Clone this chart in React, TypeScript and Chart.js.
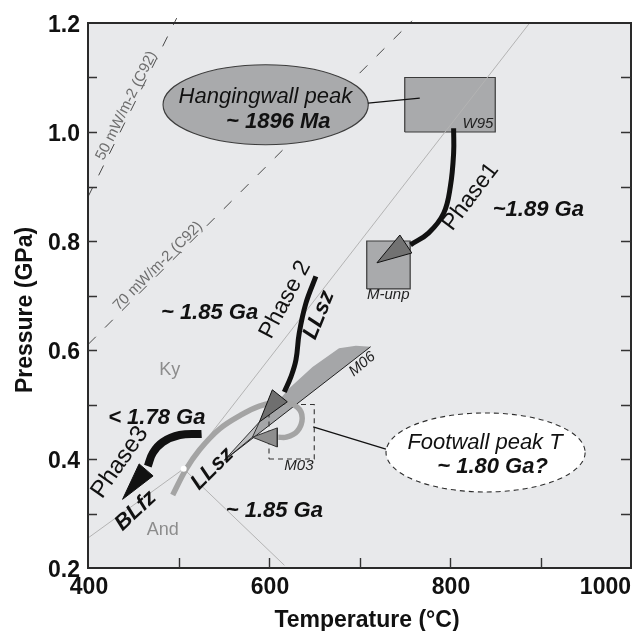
import React, { useEffect, useRef } from 'react';
import { Chart, registerables } from 'chart.js';

Chart.register(...registerables);

// ---------- axes ----------
const xTickLabels = [400, 600, 800, 1000];
const yTickLabels = [0.2, 0.4, 0.6, 0.8, 1.0, 1.2];
const xTickMarks = [500, 600, 700, 800, 900];
const yTickMarks = [0.3, 0.4, 0.5, 0.6, 0.7, 0.8, 0.9, 1.0, 1.1];

// ---------- geotherms (C92) ----------
const geo50T = [400, 498];
const geo50P = [0.881, 1.209];
const geo70T = [400, 758];
const geo70P = [0.61, 1.204];

// ---------- Al2SiO5 reactions ----------
const kyAndT = [400, 505.7];
const kyAndP = [0.255, 0.382];
const kySilT = [505.7, 888];
const kySilP = [0.382, 1.2];
const andSilT = [505.7, 617];
const andSilP = [0.382, 0.205];
const triplePointT = [505.7];
const triplePointP = [0.382];

// ---------- P-T boxes ----------
const w95T = [750, 850];
const w95P = [1.0, 1.1];
const mUnpT = [708, 756];
const mUnpP = [0.712, 0.8];
const m03T = [600, 650];
const m03P = [0.4, 0.5];

// ---------- M06 field ----------
const m06T = [550.8, 589.4, 622.4, 648.1, 677.4, 696, 712.3, 550.8];
const m06P = [0.398, 0.466, 0.53, 0.569, 0.603, 0.608, 0.606, 0.398];
const m06EdgeT = [712.3, 550.8];
const m06EdgeP = [0.606, 0.398];
const llszWedgeT = [550.8, 589.4, 581.7, 550.8];
const llszWedgeP = [0.398, 0.468, 0.44, 0.398];

// ---------- paths ----------
const phase1T = [804, 804, 800.4, 793, 776.5, 756.4];
const phase1P = [1.007, 0.961, 0.9, 0.851, 0.815, 0.793];
const phase1HeadT = [744.6, 757.8, 719.3, 744.6];
const phase1HeadP = [0.811, 0.778, 0.76, 0.811];

const phase2T = [651.8, 640.8, 633.4, 629.8, 624.3, 616.9];
const phase2P = [0.735, 0.686, 0.631, 0.582, 0.551, 0.523];
const phase2HeadT = [603.7, 620.2, 589.4, 603.7];
const phase2HeadP = [0.527, 0.505, 0.468, 0.527];

const phase3T = [525.5, 501.3, 482.6, 471.6, 466.1];
const phase3P = [0.446, 0.444, 0.431, 0.411, 0.387];
const phase3HeadT = [456.5, 471.9, 438.2, 456.5];
const phase3HeadP = [0.391, 0.369, 0.326, 0.391];

const footwallT = [493.6, 507.9, 523.3, 545.3, 567.3, 589.4, 614.7, 631.2, 636.7, 631.2, 619.1, 610.3];
const footwallP = [0.334, 0.38, 0.417, 0.455, 0.479, 0.497, 0.505, 0.495, 0.475, 0.451, 0.44, 0.44];
const footwallHeadT = [609.2, 609.2, 581.7, 609.2];
const footwallHeadP = [0.457, 0.422, 0.44, 0.457];

// ---------- label connectors ----------
const hwLinkT = [709.4, 766.6];
const hwLinkP = [1.053, 1.062];
const fwLinkT = [648.8, 729.2];
const fwLinkP = [0.459, 0.418];

// ---------- ellipse callouts (centre T, P, half-width T, half-height P) ----------
const hwEllipse = [596.3, 1.05, 113.4, 0.0734];
const fwEllipse = [839.3, 0.412, 110, 0.0725];

const FONT = '"Liberation Sans", Arial, Helvetica, sans-serif';
const BG = '#e8e9eb';
const BOX = '#a9aaac';

const xy = (T: number[], P: number[]) => T.map((t, i) => ({ x: t, y: P[i] }));
const rect = (T: number[], P: number[]) => [
  { x: T[0], y: P[0] }, { x: T[1], y: P[0] }, { x: T[1], y: P[1] }, { x: T[0], y: P[1] }, { x: T[0], y: P[0] },
];

type Txt = { s: string; T: number; P: number; font: string; color?: string; rot?: number; align?: string; baseline?: string };

const BI = `italic bold 22px ${FONT}`;
const REG = `23px ${FONT}`;
const IT = `italic 22px ${FONT}`;
const SMALL = `italic 15px ${FONT}`;

const texts: Txt[] = [
  { s: 'Hangingwall peak', T: 596, P: 1.065, font: IT },
  { s: '~ 1896 Ma', T: 610.3, P: 1.018, font: BI },
  { s: 'Footwall peak T', T: 838.7, P: 0.429, font: IT },
  { s: '~ 1.80 Ga?', T: 847, P: 0.385, font: BI },
  { s: '~1.89 Ga', T: 897.6, P: 0.857, font: BI },
  { s: 'Phase1', T: 822.8, P: 0.881, font: REG, rot: -53 },
  { s: '~ 1.85 Ga', T: 534.3, P: 0.668, font: BI },
  { s: 'Phase 2', T: 618, P: 0.692, font: REG, rot: -62 },
  { s: 'LLsz', T: 655.4, P: 0.664, font: BI, rot: -68 },
  { s: '< 1.78 Ga', T: 476, P: 0.475, font: BI },
  { s: 'Phase3', T: 435.2, P: 0.394, font: `24px ${FONT}`, rot: -55 },
  { s: 'BLfz', T: 452.8, P: 0.305, font: BI, rot: -43 },
  { s: 'LLsz', T: 537.6, P: 0.382, font: BI, rot: -45 },
  { s: '~ 1.85 Ga', T: 605.9, P: 0.305, font: BI },
  { s: 'Ky', T: 490.3, P: 0.563, font: `18px ${FONT}`, color: '#8c8c8c' },
  { s: 'And', T: 482.6, P: 0.27, font: `18px ${FONT}`, color: '#8c8c8c' },
  { s: 'W95', T: 848, P: 1.007, font: SMALL, align: 'right', baseline: 'alphabetic', color: '#222' },
  { s: 'M-unp', T: 708.3, P: 0.694, font: SMALL, align: 'left', baseline: 'alphabetic', color: '#222' },
  { s: 'M03', T: 616.9, P: 0.38, font: SMALL, align: 'left', baseline: 'alphabetic', color: '#222' },
  { s: 'M06', T: 703, P: 0.574, font: SMALL, rot: -40, color: '#222' },
];

function drawText(ctx: any, s: string, x: number, y: number, font: string, color: string, rot = 0, align = 'center', baseline = 'middle') {
  ctx.save();
  ctx.translate(x, y);
  if (rot) ctx.rotate((rot * Math.PI) / 180);
  ctx.font = font;
  ctx.fillStyle = color;
  ctx.textAlign = align;
  ctx.textBaseline = baseline;
  ctx.fillText(s, 0, 0);
  ctx.restore();
}

function drawEllipse(chart: any, e: number[], fill: string, stroke: string, dash: number[]) {
  const { ctx, scales } = chart;
  const cx = scales.x.getPixelForValue(e[0]);
  const cy = scales.y.getPixelForValue(e[1]);
  const rx = Math.abs(scales.x.getPixelForValue(e[0] + e[2]) - cx);
  const ry = Math.abs(scales.y.getPixelForValue(e[1] + e[3]) - cy);
  ctx.save();
  ctx.beginPath();
  ctx.ellipse(cx, cy, rx, ry, 0, 0, Math.PI * 2);
  ctx.fillStyle = fill;
  ctx.fill();
  ctx.setLineDash(dash);
  ctx.lineWidth = 1.1;
  ctx.strokeStyle = stroke;
  ctx.stroke();
  ctx.restore();
}

function geoLabel(chart: any, T: number[], P: number[], atT: number, s: string) {
  const { ctx, scales } = chart;
  const x0 = scales.x.getPixelForValue(T[0]);
  const y0 = scales.y.getPixelForValue(P[0]);
  const x1 = scales.x.getPixelForValue(T[1]);
  const y1 = scales.y.getPixelForValue(P[1]);
  const f = (atT - T[0]) / (T[1] - T[0]);
  const px = x0 + (x1 - x0) * f;
  const py = y0 + (y1 - y0) * f;
  const ang = Math.atan2(y1 - y0, x1 - x0);
  ctx.save();
  ctx.translate(px, py);
  ctx.rotate(ang);
  ctx.font = `15px ${FONT}`;
  ctx.fillStyle = '#6e6e6e';
  ctx.textAlign = 'center';
  ctx.textBaseline = 'alphabetic';
  ctx.fillText(s, 0, -2);
  ctx.restore();
}

const ptPlugin = {
  id: 'ptDiagram',
  beforeDatasetsDraw(chart: any) {
    const { ctx, chartArea: a } = chart;
    ctx.save();
    ctx.fillStyle = BG;
    ctx.fillRect(a.left, a.top, a.right - a.left, a.bottom - a.top);
    ctx.restore();
  },
  afterDatasetDraw(chart: any, args: any) {
    const ds = chart.data.datasets[args.index];
    if (ds && ds.label === 'geotherm 70') {
      geoLabel(chart, geo50T, geo50P, 448.5, '50 mW/m-2 (C92)');
      geoLabel(chart, geo70T, geo70P, 482, '70 mW/m-2 (C92)');
      drawEllipse(chart, hwEllipse, BOX, '#3c3c3c', []);
      drawEllipse(chart, fwEllipse, '#ffffff', '#2e2e2e', [5, 4]);
    }
  },
  afterDatasetsDraw(chart: any) {
    const { ctx, chartArea: a, scales } = chart;
    const sx = scales.x;
    const sy = scales.y;
    for (const t of texts) {
      drawText(ctx, t.s, sx.getPixelForValue(t.T), sy.getPixelForValue(t.P), t.font, t.color || '#111', t.rot || 0, t.align || 'center', t.baseline || 'middle');
    }
    ctx.save();
    ctx.strokeStyle = '#2a2a2a';
    ctx.lineWidth = 2;
    ctx.strokeRect(a.left, a.top, a.right - a.left, a.bottom - a.top);
    ctx.lineWidth = 1.4;
    ctx.strokeStyle = '#333';
    ctx.beginPath();
    for (const v of yTickMarks) {
      const y = Math.round(sy.getPixelForValue(v)) + 0.5;
      ctx.moveTo(a.left, y);
      ctx.lineTo(a.left + 9, y);
      ctx.moveTo(a.right - 10, y);
      ctx.lineTo(a.right, y);
    }
    for (const v of xTickMarks) {
      const x = Math.round(sx.getPixelForValue(v)) + 0.5;
      ctx.moveTo(x, a.bottom);
      ctx.lineTo(x, a.bottom - 10);
    }
    ctx.stroke();
    ctx.restore();
    const tickFont = `bold 23px ${FONT}`;
    for (const v of yTickLabels) {
      drawText(ctx, v.toFixed(1), a.left - 8, sy.getPixelForValue(v) + 8.5, tickFont, '#111', 0, 'right', 'alphabetic');
    }
    xTickLabels.forEach((v, i) => {
      const last = i === xTickLabels.length - 1;
      drawText(ctx, String(v), last ? a.right : sx.getPixelForValue(v) + 1, a.bottom + 26, tickFont, '#111', 0, last ? 'right' : 'center', 'alphabetic');
    });
    drawText(ctx, 'Temperature (°C)', 367, a.bottom + 59, tickFont, '#111', 0, 'center', 'alphabetic');
    drawText(ctx, 'Pressure (GPa)', 32, 310, tickFont, '#111', -90, 'center', 'alphabetic');
  },
};

function line(label: string, data: any[], color: string, width: number, extra: any = {}) {
  return {
    label,
    data,
    showLine: true,
    borderColor: color,
    borderWidth: width,
    pointRadius: 0,
    pointHoverRadius: 0,
    fill: false,
    tension: 0,
    ...extra,
  };
}

function shape(label: string, data: any[], fillColor: string, stroke: string, width: number, extra: any = {}) {
  return line(label, data, stroke, width, { fill: 'shape', backgroundColor: fillColor, borderJoinStyle: 'miter', ...extra });
}

export default function App() {
  const ref = useRef<HTMLCanvasElement | null>(null);

  useEffect(() => {
    document.body.style.margin = '0';
    const layers: any[] = [
      line('geotherm 50', xy(geo50T, geo50P), '#4a4a4a', 1, { borderDash: [11, 13], clip: { left: 0, top: 6, right: 0, bottom: 0 } }),
      line('geotherm 70', xy(geo70T, geo70P), '#4a4a4a', 1, { borderDash: [11, 13], clip: { left: 0, top: 6, right: 0, bottom: 0 } }),
      shape('W95', rect(w95T, w95P), BOX, '#3a3a3a', 1.2),
      shape('M-unp', rect(mUnpT, mUnpP), BOX, '#3a3a3a', 1.2),
      line('Ky-And', xy(kyAndT, kyAndP), '#b4b4b4', 1),
      line('Ky-Sil', xy(kySilT, kySilP), '#b4b4b4', 1),
      line('And-Sil', xy(andSilT, andSilP), '#b4b4b4', 1),
      shape('M06', xy(m06T, m06P), '#a5a6a8', 'rgba(0,0,0,0)', 0),
      shape('LLsz wedge', xy(llszWedgeT, llszWedgeP), '#bdbec0', '#222', 0.9),
      line('M06 edge', xy(m06EdgeT, m06EdgeP), '#222', 1),
      shape('M03', rect(m03T, m03P), 'rgba(0,0,0,0)', '#333', 1.1, { borderDash: [5, 4] }),
      line('Footwall path', xy(footwallT, footwallP), '#a4a4a4', 5.5, { tension: 0.35, borderCapStyle: 'butt' }),
      shape('Footwall head', xy(footwallHeadT, footwallHeadP), '#8e8e8e', '#333', 1),
      line('Phase 2', xy(phase2T, phase2P), '#111', 5, { tension: 0.4 }),
      shape('Phase 2 head', xy(phase2HeadT, phase2HeadP), '#6f6f6f', '#111', 1),
      line('Phase 1', xy(phase1T, phase1P), '#111', 5, { tension: 0.4 }),
      shape('Phase 1 head', xy(phase1HeadT, phase1HeadP), '#727272', '#111', 1),
      line('Phase 3', xy(phase3T, phase3P), '#111', 8, { tension: 0.4 }),
      shape('Phase 3 head', xy(phase3HeadT, phase3HeadP), '#111', '#111', 1),
      line('HW link', xy(hwLinkT, hwLinkP), '#111', 1.3),
      line('FW link', xy(fwLinkT, fwLinkP), '#111', 1.3),
      {
        label: 'Triple point',
        data: xy(triplePointT, triplePointP),
        showLine: false,
        pointRadius: 3,
        pointBackgroundColor: '#ffffff',
        pointBorderWidth: 0,
        pointBorderColor: '#ffffff',
      },
    ];
    const n = layers.length;
    layers.forEach((d, i) => (d.order = n - i));

    const chart = new Chart(ref.current as HTMLCanvasElement, {
      type: 'scatter',
      data: { datasets: layers },
      options: {
        animation: false,
        responsive: false,
        events: [],
        layout: { padding: { left: 88, top: 23, right: 2, bottom: 63 } },
        plugins: { legend: { display: false }, tooltip: { enabled: false }, title: { display: false } },
        scales: {
          x: { type: 'linear', min: 400, max: 1000, display: false },
          y: { type: 'linear', min: 0.2, max: 1.2, display: false },
        },
      },
      plugins: [ptPlugin],
    } as any);
    return () => chart.destroy();
  }, []);

  return (
    <div style={{ position: 'fixed', left: 0, top: 0, width: 635, height: 631, background: '#fff' }}>
      <canvas ref={ref} width={635} height={631} style={{ display: 'block', width: 635, height: 631 }} />
    </div>
  );
}
